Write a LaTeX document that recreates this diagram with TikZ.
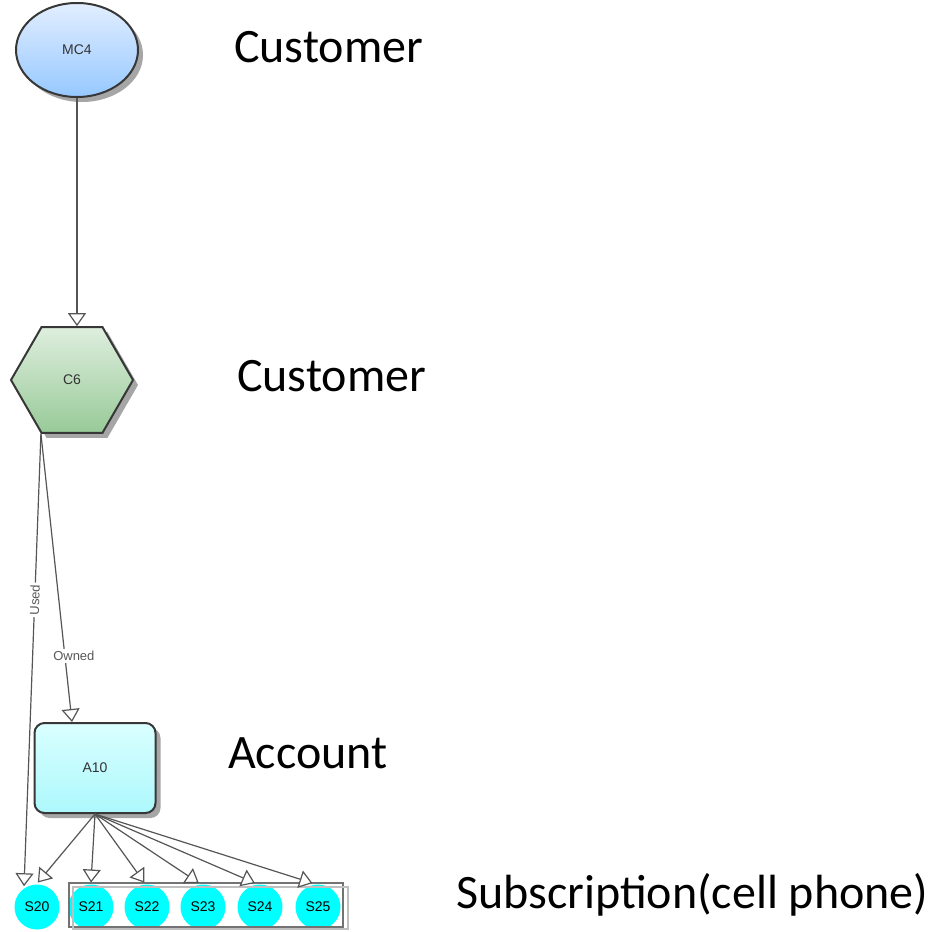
\documentclass[tikz,border=0pt]{standalone}
\usepackage{fontspec}
\setmainfont{Carlito}
\newfontfamily\nodefont{Liberation Sans}
\usepackage{tikz}
\usetikzlibrary{arrows.meta,shapes.geometric,shadows}

\definecolor{mcTop}{RGB}{226,238,255}
\definecolor{mcBot}{RGB}{150,200,255}
\definecolor{cTop}{RGB}{222,238,222}
\definecolor{cBot}{RGB}{152,202,152}
\definecolor{aTop}{RGB}{218,255,255}
\definecolor{aBot}{RGB}{172,248,252}
\definecolor{subCyan}{RGB}{0,255,255}
\definecolor{edgeGray}{RGB}{85,85,85}
\definecolor{rimGray}{RGB}{55,55,55}

\begin{document}
\begin{tikzpicture}[x=0.5pt,y=-0.5pt,
  shade/.style={draw=rimGray, line width=1pt, font=\nodefont\fontsize{7}{8}\selectfont, text=black!80,
    drop shadow={shadow xshift=2.5pt, shadow yshift=-2.5pt, fill=black, opacity=0.35}},
  subnode/.style={circle, fill=subCyan, minimum size=22.5pt, inner sep=0pt, outer sep=1pt,
    font=\nodefont\fontsize{7}{8}\selectfont},
  link/.style={draw=edgeGray, line width=0.6pt, -{Triangle[length=6.5pt,width=9pt,fill=white]}},
  lbl/.style={fill=white, inner sep=1pt, text=black!65, font=\nodefont\fontsize{6.5}{7}\selectfont},
  tier/.style={anchor=west, font=\fontsize{24}{28}\selectfont}]
\useasboundingbox (0,0) rectangle (940,931);
% entities
\node[shade, ellipse, minimum width=61pt, minimum height=47pt, top color=mcTop, bottom color=mcBot] (MC4) at (77,50) {MC4};
\node[shade, regular polygon, regular polygon sides=6, minimum size=61pt, inner sep=0pt, top color=cTop, bottom color=cBot] (C6) at (72,380) {C6};
\node[shade, rectangle, rounded corners=5pt, minimum width=60.5pt, minimum height=45pt, top color=aTop, bottom color=aBot] (A10) at (95,768) {A10};
\foreach \n/\x in {20/37,21/91,22/147,23/203,24/260,25/318}
  \node[subnode] (S\n) at (\x,907) {S\n};
% group box round the subscriptions
\draw[black!55, line width=0.6pt] (69,883) rectangle (343,927);
\draw[black!25, line width=0.6pt] (73,887) rectangle (348,929);
% relations
\draw[link] (MC4.south) -- (MC4.south |- C6.north);
\draw[link] (C6.240) -- (S20.122) node[lbl, sloped, pos=0.367] {Used};
\draw[link] (C6.240) -- (C6 |- A10.north) node[lbl, pos=0.77, xshift=4.5pt] {Owned};
\foreach \n/\a in {20/88,21/90,22/96,23/100,24/102,25/103}
  \draw[link] (A10.south) -- (S\n.\a);
% tier captions
\node[tier] (capMC) at (227,47) {Customer};
\node[tier] (capC) at (230,376) {Customer};
\node[tier] (capA) at (221,753) {Account};
\node[tier] (capS) at (449,895) {Subscription(cell phone)};
\end{tikzpicture}
\end{document}
